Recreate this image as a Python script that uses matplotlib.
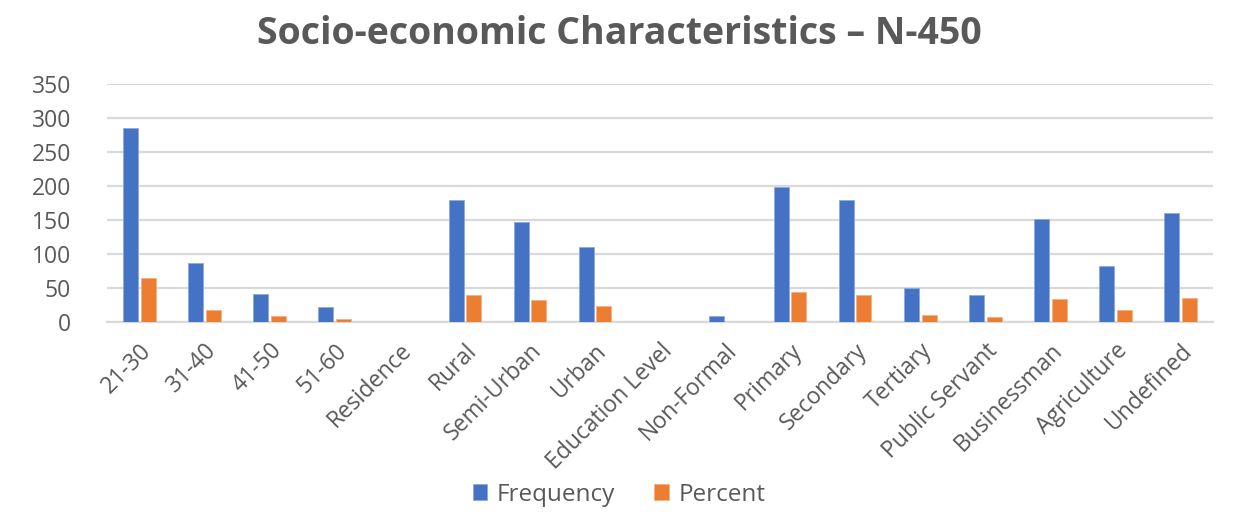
import numpy as np
import matplotlib.pyplot as plt

categories = ['21-30', '31-40', '41-50', '51-60', 'Residence', 'Rural', 'Semi-Urban',
              'Urban', 'Education Level', 'Non-Formal', 'Primary', 'Secondary', 'Tertiary',
              'Public Servant', 'Businessman', 'Agriculture', 'Undefined']
frequency = [286, 87, 41, 22, 0, 179, 147, 110, 0, 9, 198, 179, 50, 39, 152, 82, 161]
percent = [64, 18, 9, 4.5, 0, 39, 32, 23.5, 0, 0, 44.5, 39, 11, 7.5, 34, 18, 36]

plt.rcParams['font.family'] = ['Open Sans', 'DejaVu Sans']
gray = '#595959'

fig = plt.figure(figsize=(12.38, 5.25), dpi=100)
ax = fig.add_axes([107/1238, 1-322/525, (1213-107)/1238, (322-84)/525])

x = np.arange(len(categories))
w = 0.23
ax.bar(x - 0.135, frequency, w, color='#4472c4', edgecolor='#8faadc', linewidth=0.6, label='Frequency', zorder=3)
ax.bar(x + 0.135, percent, w, color='#ed7d31', edgecolor='#f4b183', linewidth=0.6, label='Percent', zorder=3)

ax.set_xlim(-0.5, len(categories) - 0.5)
ax.set_ylim(0, 350)
ax.set_yticks(np.arange(0, 351, 50))
ax.yaxis.grid(True, color='#d9d9d9', linewidth=1.6, zorder=0)
for s in ['top', 'right', 'left']:
    ax.spines[s].set_visible(False)
ax.spines['bottom'].set_color('#d9d9d9')
ax.spines['bottom'].set_linewidth(1.6)
ax.tick_params(axis='both', length=0, labelsize=16.5, colors=gray)
ax.tick_params(axis='y', pad=26)
ax.tick_params(axis='x', pad=12)
ax.set_xticks(x)
ax.set_xticklabels(categories, rotation=45, ha='right', rotation_mode='anchor')

fig.text(0.5, 0.935, 'Socio-economic Characteristics \u2013 N-450', ha='center', va='center',
         fontsize=27, fontweight='bold', color=gray)

fig.legend(loc='center', bbox_to_anchor=(0.5, 0.058), ncol=2, frameon=False,
           fontsize=17.5, labelcolor=gray, handlelength=0.6, handleheight=0.6,
           handletextpad=0.4, columnspacing=1.6)

fig.savefig('out.png', dpi=100, facecolor='white')
